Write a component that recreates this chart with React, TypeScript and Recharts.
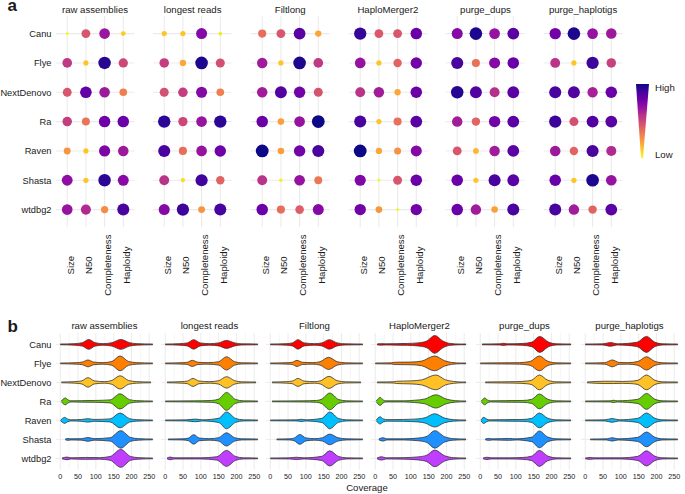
import React from "react";
import {
  ScatterChart,
  Scatter,
  ComposedChart,
  Area,
  XAxis,
  YAxis,
  CartesianGrid,
} from "recharts";

const stages = ["raw assemblies", "longest reads", "Filtlong", "HaploMerger2", "purge_dups", "purge_haplotigs"];
const assemblers = ["Canu", "Flye", "NextDenovo", "Ra", "Raven", "Shasta", "wtdbg2"];
const metrics = ["Size", "N50", "Completeness", "Haploidy"];

// panel a scores, 0 = Low, 100 = High (rows: assemblers, cols: metrics)
const rawScores = [
  [0, 45, 67, 10],
  [55, 12, 95, 50],
  [45, 82, 66, 32],
  [53, 35, 79, 80],
  [25, 12, 75, 66],
  [70, 12, 94, 72],
  [68, 60, 28, 88],
];
const longestScores = [
  [12, 12, 73, 3],
  [53, 20, 97, 47],
  [47, 53, 73, 32],
  [94, 50, 68, 94],
  [88, 37, 68, 79],
  [57, 6, 90, 40],
  [73, 91, 25, 88],
];
const filtlongScores = [
  [37, 45, 84, 20],
  [65, 12, 97, 55],
  [65, 86, 78, 46],
  [80, 22, 68, 100],
  [100, 22, 78, 88],
  [57, 2, 68, 34],
  [80, 37, 42, 73],
];
const haploScores = [
  [92, 44, 45, 80],
  [68, 12, 40, 78],
  [57, 65, 20, 80],
  [88, 12, 36, 84],
  [100, 20, 26, 73],
  [74, 0, 45, 80],
  [78, 24, 0, 78],
];
const purgeDupsScores = [
  [73, 97, 68, 84],
  [88, 36, 73, 80],
  [95, 86, 58, 84],
  [65, 40, 78, 84],
  [45, 16, 65, 84],
  [80, 12, 88, 84],
  [80, 65, 22, 88],
];
const purgeHapScores = [
  [78, 97, 68, 66],
  [57, 12, 91, 52],
  [88, 86, 63, 80],
  [91, 47, 86, 84],
  [66, 40, 88, 60],
  [80, 12, 97, 68],
  [88, 65, 40, 84],
];
const stageScores = [rawScores, longestScores, filtlongScores, haploScores, purgeDupsScores, purgeHapScores];

// panel b violins: [coverage, half width in % of a row]
const rawViolins = [
  [[0, 2], [40, 4], [62, 9], [80, 26], [98, 9], [120, 4], [145, 9], [170, 26], [195, 9], [215, 4], [260, 2]],
  [[0, 2], [45, 4], [62, 7], [78, 18], [94, 7], [120, 4], [145, 10], [168, 39], [192, 10], [215, 4], [260, 2]],
  [[3, 2], [40, 4], [60, 8], [78, 25], [96, 8], [125, 4], [145, 10], [168, 35], [192, 10], [215, 4], [255, 2]],
  [[3, 2], [8, 12], [14, 18], [22, 8], [30, 3], [60, 4], [100, 5], [140, 8], [168, 40], [195, 9], [215, 4], [260, 2]],
  [[1, 2], [6, 10], [12, 16], [20, 8], [30, 3], [60, 5], [78, 9], [95, 5], [140, 8], [168, 39], [195, 9], [215, 4], [260, 2]],
  [[14, 2], [22, 5], [30, 3], [60, 4], [78, 10], [95, 4], [140, 9], [170, 46], [198, 10], [220, 4], [260, 2]],
  [[5, 2], [19, 7], [30, 3], [71, 5], [110, 4], [140, 10], [170, 47], [198, 10], [220, 4], [260, 2]],
];
const longestViolins = [
  [[0, 2], [40, 4], [62, 8], [80, 25], [98, 8], [125, 4], [150, 8], [172, 21], [195, 8], [215, 3], [260, 2]],
  [[0, 2], [50, 4], [62, 6], [76, 16], [92, 6], [120, 4], [150, 9], [172, 35], [195, 9], [215, 3], [260, 2]],
  [[5, 2], [45, 4], [62, 7], [78, 21], [95, 7], [125, 4], [150, 9], [172, 30], [195, 9], [215, 3], [255, 2]],
  [[0, 2], [80, 3], [130, 5], [150, 12], [172, 47], [198, 10], [220, 3], [260, 2]],
  [[0, 2], [60, 3], [85, 7], [105, 3], [150, 11], [172, 44], [198, 10], [220, 3], [260, 2]],
  [[8, 2], [50, 3], [65, 7], [80, 25], [96, 7], [125, 4], [150, 9], [172, 35], [195, 9], [215, 3], [260, 2]],
  [[5, 2], [14, 7], [25, 3], [100, 3], [145, 9], [172, 42], [198, 10], [220, 3], [260, 2]],
];
const filtlongViolins = [
  [[0, 2], [45, 4], [62, 8], [78, 25], [95, 8], [125, 4], [145, 8], [166, 25], [188, 8], [212, 3], [260, 2]],
  [[0, 2], [50, 4], [62, 6], [75, 16], [90, 6], [120, 4], [140, 9], [164, 32], [188, 9], [212, 3], [260, 2]],
  [[5, 2], [45, 4], [62, 7], [78, 21], [95, 7], [125, 4], [142, 9], [165, 32], [188, 9], [212, 3], [255, 2]],
  [[5, 2], [90, 3], [130, 5], [145, 12], [167, 44], [192, 10], [215, 3], [260, 2]],
  [[0, 2], [75, 3], [87, 6], [100, 3], [145, 11], [167, 44], [192, 10], [215, 3], [260, 2]],
  [[18, 2], [55, 3], [68, 8], [83, 26], [100, 8], [125, 4], [147, 9], [167, 28], [190, 9], [215, 3], [260, 2]],
  [[0, 2], [55, 3], [73, 6], [95, 3], [145, 11], [167, 40], [192, 10], [215, 3], [260, 2]],
];
const haploViolins = [
  [[5, 2], [15, 4], [30, 3], [60, 4], [90, 5], [120, 8], [145, 18], [167, 47], [190, 18], [210, 5], [240, 2], [255, 2]],
  [[0, 2], [45, 3], [55, 6], [100, 7], [130, 12], [167, 39], [195, 14], [215, 5], [240, 2], [255, 2]],
  [[5, 2], [50, 3], [60, 6], [100, 8], [130, 13], [170, 39], [198, 13], [220, 5], [245, 2], [255, 2]],
  [[3, 2], [8, 14], [14, 21], [22, 8], [30, 3], [80, 3], [110, 6], [140, 13], [170, 35], [200, 12], [225, 4], [255, 2]],
  [[3, 2], [8, 13], [14, 19], [22, 8], [35, 4], [80, 5], [120, 8], [140, 14], [167, 35], [195, 12], [220, 4], [255, 2]],
  [[10, 2], [22, 9], [32, 3], [80, 3], [120, 7], [145, 16], [167, 46], [195, 14], [220, 4], [255, 2]],
  [[5, 2], [18, 9], [30, 3], [80, 4], [120, 8], [145, 17], [167, 44], [195, 14], [220, 4], [255, 2]],
];
const purgeDupsViolins = [
  [[5, 2], [55, 3], [65, 6], [75, 3], [120, 5], [145, 12], [167, 42], [192, 12], [215, 3], [255, 2]],
  [[0, 2], [60, 3], [110, 4], [140, 10], [166, 39], [190, 11], [215, 3], [255, 2]],
  [[14, 2], [60, 3], [100, 4], [130, 7], [145, 12], [166, 39], [190, 11], [215, 3], [255, 2]],
  [[3, 2], [7, 11], [12, 18], [20, 8], [28, 3], [70, 4], [120, 5], [145, 11], [166, 39], [190, 11], [215, 3], [255, 2]],
  [[2, 2], [5, 10], [10, 16], [18, 7], [26, 3], [70, 4], [120, 5], [145, 11], [166, 39], [190, 11], [215, 3], [255, 2]],
  [[14, 2], [24, 5], [34, 3], [60, 4], [80, 5], [100, 3], [145, 12], [166, 44], [190, 12], [215, 3], [255, 2]],
  [[8, 2], [19, 6], [30, 3], [80, 3], [120, 5], [145, 12], [166, 42], [190, 12], [215, 3], [255, 2]],
];
const purgeHapViolins = [
  [[0, 2], [50, 3], [71, 10], [90, 3], [145, 11], [172, 42], [196, 11], [218, 3], [260, 2]],
  [[0, 2], [55, 4], [76, 18], [95, 5], [120, 4], [148, 10], [172, 35], [196, 10], [218, 3], [260, 2]],
  [[5, 2], [55, 6], [80, 6], [104, 5], [125, 6], [148, 11], [172, 39], [196, 11], [218, 3], [260, 2]],
  [[0, 2], [70, 3], [80, 6], [90, 3], [148, 11], [172, 42], [196, 11], [218, 3], [260, 2]],
  [[0, 2], [55, 3], [76, 10], [95, 3], [148, 11], [172, 39], [196, 11], [218, 3], [260, 2]],
  [[14, 2], [60, 3], [76, 9], [92, 3], [148, 11], [172, 39], [196, 11], [218, 3], [260, 2]],
  [[0, 2], [14, 5], [25, 3], [100, 3], [148, 11], [172, 40], [196, 11], [218, 3], [260, 2]],
];
const stageViolins = [rawViolins, longestViolins, filtlongViolins, haploViolins, purgeDupsViolins, purgeHapViolins];

const violinColors = ["#FF0000", "#FF7F00", "#FFC125", "#66CD00", "#00BFFF", "#1E90FF", "#BF3EFF"];
const coverageTicks = [0, 50, 100, 150, 200, 250];
const coverageMinor = [25, 75, 125, 175, 225];
const metricPos = [1, 2, 3, 4];
const assemblerPos = [1, 2, 3, 4, 5, 6, 7];

const plasmaStops = ["#0d0887", "#41049d", "#6a00a8", "#8f0da4", "#b12a90", "#cc4778", "#e16462", "#f2844b", "#fca636", "#fcce25", "#f0f921"];

function hexRgb(h: string) {
  return [1, 3, 5].map((i) => parseInt(h.slice(i, i + 2), 16));
}
function plasma(t: number) {
  const p = Math.min(Math.max(t, 0), 1) * 10;
  const i = Math.min(Math.floor(p), 9);
  const f = p - i;
  const a = hexRgb(plasmaStops[i]);
  const b = hexRgb(plasmaStops[i + 1]);
  const c = a.map((v, k) => Math.round(v + (b[k] - v) * f));
  return `rgb(${c[0]},${c[1]},${c[2]})`;
}
const scoreColor = (v: number) => plasma(1 - v / 100);
const scoreRadius = (v: number) => Math.sqrt(1.5 * 1.5 + (v / 100) * (6.4 * 6.4 - 1.5 * 1.5));

const FONT = '"Liberation Sans", Arial, Helvetica, sans-serif';
const INK = "#1a1a1a";
const GRID = "#ebebeb";
const YW = 55;
const PAD = 8;

// panel a geometry
const A_TOP = 16.4;
const A_W = 78.5;
const A_H = 211.2;
const A_LEFT = 55.8;
const A_STEP = 97.6;

// panel b geometry
const B_TOP = 332.6;
const B_W = 97.5;
const B_H = 136.8;
const B_LEFT = 55.7;
const B_STEP = 105;

const MetricTick = (props: any) => {
  const { x, y, payload } = props;
  return (
    <text
      transform={`translate(${x + 3},${y + 38}) rotate(-90)`}
      textAnchor="middle"
      dominantBaseline="central"
      fontSize={9.6}
      fill={INK}
    >
      {metrics[payload.value - 1]}
    </text>
  );
};

const ScoreDot = (props: any) => {
  const { cx, cy, payload } = props;
  return <circle cx={cx} cy={cy} r={scoreRadius(payload.v)} fill={scoreColor(payload.v)} />;
};

function Title({ text, left, width, top }: { text: string; left: number; width: number; top: number }) {
  return (
    <div
      style={{
        position: "absolute",
        left,
        top,
        width,
        textAlign: "center",
        fontSize: 9.6,
        lineHeight: "12px",
        color: INK,
        whiteSpace: "nowrap",
      }}
    >
      {text}
    </div>
  );
}

function DotFacet({ f }: { f: number }) {
  const yw = f === 0 ? YW : 0;
  const pts = stageScores[f].flatMap((row, a) => row.map((v, m) => ({ m: m + 1, a: a + 1, v })));
  return (
    <div style={{ position: "absolute", left: A_LEFT + f * A_STEP - yw - PAD, top: A_TOP }}>
      <ScatterChart
        width={A_W + yw + 2 * PAD}
        height={A_H + 70}
        margin={{ top: 0, right: PAD, bottom: 0, left: PAD }}
      >
        <CartesianGrid stroke={GRID} strokeWidth={1.1} verticalValues={metricPos} horizontalValues={assemblerPos} />
        <XAxis
          type="number"
          dataKey="m"
          domain={[0.4, 4.6]}
          ticks={metricPos}
          interval={0}
          allowDataOverflow
          axisLine={false}
          tickLine={false}
          tickSize={0}
          tickMargin={0}
          height={70}
          tick={<MetricTick />}
        />
        <YAxis
          type="number"
          dataKey="a"
          domain={[0.4, 7.6]}
          ticks={assemblerPos}
          interval={0}
          reversed
          allowDataOverflow
          hide={f > 0}
          width={yw}
          axisLine={false}
          tickLine={false}
          tickSize={0}
          tickMargin={4.5}
          tickFormatter={(v: number) => assemblers[v - 1]}
          tick={{ fontSize: 9.3, fill: INK }}
        />
        <Scatter data={pts} shape={<ScoreDot />} isAnimationActive={false} />
      </ScatterChart>
    </div>
  );
}

function ViolinFacet({ f }: { f: number }) {
  const yw = f === 0 ? YW : 0;
  return (
    <div style={{ position: "absolute", left: B_LEFT + f * B_STEP - yw - PAD, top: B_TOP }}>
      <ComposedChart
        width={B_W + yw + 2 * PAD}
        height={B_H + 16}
        margin={{ top: 0, right: PAD, bottom: 0, left: PAD }}
      >
        <CartesianGrid stroke="#f3f3f3" strokeWidth={0.8} horizontal={false} verticalValues={coverageMinor} />
        <CartesianGrid stroke={GRID} strokeWidth={1} verticalValues={coverageTicks} horizontalValues={assemblerPos} />
        <XAxis
          type="number"
          dataKey="c"
          domain={[-12, 262]}
          ticks={coverageTicks}
          interval={0}
          allowDataOverflow
          axisLine={false}
          tickLine={false}
          tickSize={2}
          tickMargin={2}
          height={16}
          tick={{ fontSize: 7.2, fill: INK }}
        />
        <YAxis
          type="number"
          domain={[0.4, 7.6]}
          ticks={assemblerPos}
          interval={0}
          reversed
          allowDataOverflow
          hide={f > 0}
          width={yw}
          axisLine={false}
          tickLine={false}
          tickSize={0}
          tickMargin={4.5}
          tickFormatter={(v: number) => assemblers[v - 1]}
          tick={{ fontSize: 9.3, fill: INK }}
        />
        {stageViolins[f].map((knots, i) => (
          <Area
            key={assemblers[i]}
            data={knots.map(([c, h]) => ({ c, band: [i + 1 - h / 100, i + 1 + h / 100] }))}
            dataKey="band"
            type="monotone"
            fill={violinColors[i]}
            fillOpacity={1}
            stroke="#333333"
            strokeWidth={0.8}
            dot={false}
            activeDot={false}
            isAnimationActive={false}
          />
        ))}
      </ComposedChart>
    </div>
  );
}

function Legend() {
  return (
    <>
      <svg style={{ position: "absolute", left: 630, top: 80 }} width={24} height={82}>
        <defs>
          <linearGradient id="plasmaGrad" x1="0" y1="0" x2="0" y2="1">
            {plasmaStops.map((c, i) => (
              <stop key={c} offset={`${i * 10}%`} stopColor={c} />
            ))}
          </linearGradient>
        </defs>
        <polygon points="6,4 19,4 13,78 11,78" fill="url(#plasmaGrad)" />
      </svg>
      <div style={{ position: "absolute", left: 655, top: 82, fontSize: 9.6, lineHeight: "12px", color: INK }}>High</div>
      <div style={{ position: "absolute", left: 655, top: 149, fontSize: 9.6, lineHeight: "12px", color: INK }}>Low</div>
    </>
  );
}

export default function App() {
  return (
    <div
      style={{
        position: "absolute",
        left: 0,
        top: 0,
        width: 685,
        height: 494,
        background: "#fff",
        fontFamily: FONT,
        overflow: "hidden",
      }}
    >
      <svg style={{ position: "absolute", left: 0, top: 0 }} width={30} height={340}>
        <text x={7.5} y={11} fontSize={17} fontWeight="bold" fill={INK}>a</text>
        <text x={7.5} y={332} fontSize={17} fontWeight="bold" fill={INK}>b</text>
      </svg>

      {stages.map((s, f) => (
        <Title key={"ta" + s} text={s} left={A_LEFT + f * A_STEP - 10} width={A_W + 20} top={A_TOP - 12} />
      ))}
      {stages.map((s, f) => (
        <DotFacet key={"fa" + s} f={f} />
      ))}
      <Legend />

      {stages.map((s, f) => (
        <Title key={"tb" + s} text={s} left={B_LEFT + f * B_STEP - 10} width={B_W + 20} top={B_TOP - 13} />
      ))}
      {stages.map((s, f) => (
        <ViolinFacet key={"fb" + s} f={f} />
      ))}
      <div
        style={{
          position: "absolute",
          left: B_LEFT,
          top: 482,
          width: 5 * B_STEP + B_W,
          textAlign: "center",
          fontSize: 9.6,
          lineHeight: "12px",
          color: INK,
        }}
      >
        Coverage
      </div>
    </div>
  );
}
